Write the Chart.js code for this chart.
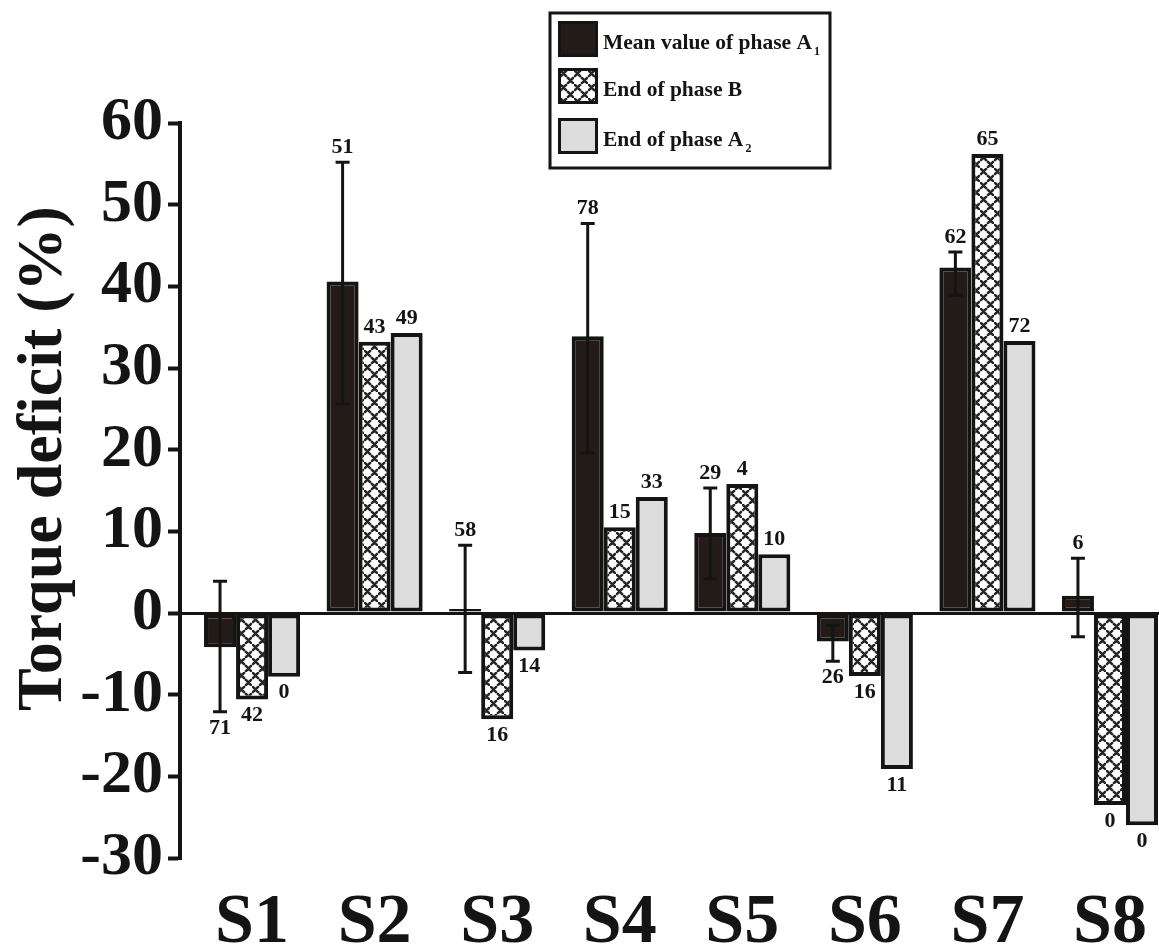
<!DOCTYPE html>
<html>
<head>
<meta charset="utf-8">
<script src="https://cdn.jsdelivr.net/npm/chart.js@4.4.1/dist/chart.umd.min.js"></script>
<style>
  html, body { margin: 0; padding: 0; background: #fff; overflow: hidden; }
  #wrap { width: 1159px; height: 945px; }
</style>
</head>
<body>
<div id="wrap"><canvas id="chart" width="1159" height="945"></canvas></div>
<script>
/* ---- data ---- */
const categories = ["S1", "S2", "S3", "S4", "S5", "S6", "S7", "S8"];

const phaseA1 = [-4.2, 40.6, 0.5, 33.9, 9.8, -3.5, 42.3, 2.1];
const phaseB  = [-10.6, 33.2, -13.0, 10.5, 15.8, -7.7, 56.2, -23.5];
const phaseA2 = [-7.8, 34.3, -4.6, 14.2, 7.2, -19.1, 33.3, -26.0];

// error bar ends for the phase A1 means
const errLow  = [-12.1, 25.6, -7.3, 19.6, 4.2, -5.9, 38.9, -2.9];
const errHigh = [3.9, 55.2, 8.3, 47.7, 15.3, -1.5, 44.2, 6.7];

// numbers printed at the bar ends
const labelsA1 = ["71", "51", "58", "78", "29", "26", "62", "6"];
const labelsB  = ["42", "43", "16", "15", "4", "16", "65", "0"];
const labelsA2 = ["0", "49", "14", "33", "10", "11", "72", "0"];

const yTicks = [-30, -20, -10, 0, 10, 20, 30, 40, 50, 60];

// legend names: [text, subscript]
const legendNames = [["Mean value of phase A", "1"], ["End of phase B", ""], ["End of phase A", "2"]];

const SERIF = '"Liberation Serif", "Times New Roman", serif';
const INK = "#141414";

const canvas = document.getElementById("chart");
const ctx0 = canvas.getContext("2d");

function crossPattern(){
  const t = document.createElement("canvas");
  t.width = 14; t.height = 14;
  const g = t.getContext("2d");
  g.fillStyle = "#fff";
  g.fillRect(0, 0, 14, 14);
  g.strokeStyle = "#262626";
  g.lineWidth = 2.6;
  g.lineCap = "round";
  const cross = (x, y) => {
    g.beginPath();
    g.moveTo(x - 2.6, y - 2.6); g.lineTo(x + 2.6, y + 2.6);
    g.moveTo(x + 2.6, y - 2.6); g.lineTo(x - 2.6, y + 2.6);
    g.stroke();
  };
  cross(3.5, 3.5); cross(10.5, 10.5);
  return ctx0.createPattern(t, "repeat");
}
const PATTERN = crossPattern();

const xPos = categories.map((c, i) => i + 1);
const pts = arr => arr.map((v, i) => ({ x: xPos[i], y: v }));

const fills = ["#221b17", PATTERN, "#dcdcdc"];

// error bars on the first dataset
const errorBars = {
  id: "errorBars",
  afterDatasetsDraw(chart){
    const meta = chart.getDatasetMeta(0);
    const y = chart.scales.y;
    const c = chart.ctx;
    c.save();
    c.strokeStyle = INK;
    c.lineWidth = 3;
    meta.data.forEach((bar, i) => {
      const top = y.getPixelForValue(errHigh[i]);
      const bot = y.getPixelForValue(errLow[i]);
      c.beginPath();
      c.moveTo(bar.x, top); c.lineTo(bar.x, bot);
      c.moveTo(bar.x - 7, top); c.lineTo(bar.x + 7, top);
      c.moveTo(bar.x - 7, bot); c.lineTo(bar.x + 7, bot);
      c.stroke();
    });
    c.restore();
  }
};

// numbers above / below each bar
const endLabels = {
  id: "endLabels",
  afterDatasetsDraw(chart){
    const y = chart.scales.y;
    const c = chart.ctx;
    const sets = [labelsA1, labelsB, labelsA2];
    c.save();
    c.fillStyle = INK;
    c.font = "bold 22px " + SERIF;
    c.textAlign = "center";
    chart.data.datasets.forEach((ds, d) => {
      chart.getDatasetMeta(d).data.forEach((bar, i) => {
        const v = ds.data[i].y;
        let hi = v, lo = v;
        if(d === 0){ hi = Math.max(v, errHigh[i]); lo = Math.min(v, errLow[i]); }
        if(v >= 0){
          c.textBaseline = "bottom";
          c.fillText(sets[d][i], bar.x, y.getPixelForValue(hi) - 4);
        }else{
          c.textBaseline = "top";
          c.fillText(sets[d][i], bar.x, y.getPixelForValue(lo) + 5);
        }
      });
    });
    c.restore();
  }
};

// boxed legend with subscripts
const boxLegend = {
  id: "boxLegend",
  afterDraw(chart){
    const c = chart.ctx;
    c.save();
    c.fillStyle = "#fff";
    c.fillRect(550, 13, 280, 155);
    c.strokeStyle = INK;
    c.lineWidth = 3;
    c.strokeRect(550, 13, 280, 155);
    const rows = [21, 68, 118];
    legendNames.forEach((n, k) => {
      const top = rows[k];
      c.fillStyle = fills[k];
      c.fillRect(558, top, 40, 36);
      c.lineWidth = 3;
      c.strokeStyle = INK;
      c.strokeRect(559.5, top + 1.5, 37, 33);
      c.fillStyle = INK;
      c.font = "bold 21.5px " + SERIF;
      c.textAlign = "left";
      c.textBaseline = "alphabetic";
      const base = top + 28;
      c.fillText(n[0], 603, base);
      if(n[1]){
        const w = c.measureText(n[0]).width;
        c.font = "bold 12px " + SERIF;
        c.fillText(n[1], 603 + w + 2, base + 6);
      }
    });
    c.restore();
  }
};

new Chart(canvas, {
  type: "bar",
  data: {
    datasets: [
      { label: "Mean value of phase A1", data: pts(phaseA1), backgroundColor: fills[0] },
      { label: "End of phase B", data: pts(phaseB), backgroundColor: fills[1] },
      { label: "End of phase A2", data: pts(phaseA2), backgroundColor: fills[2] }
    ]
  },
  options: {
    responsive: false,
    animation: false,
    layout: { padding: { top: 123, right: 0, bottom: 0, left: 0 } },
    datasets: {
      bar: { barPercentage: 1, categoryPercentage: 0.784, borderColor: INK, borderWidth: 4, borderSkipped: false }
    },
    plugins: { legend: { display: false }, tooltip: { enabled: false } },
    scales: {
      x: {
        type: "linear",
        offset: false,
        min: 0.412,
        max: 8.4,
        grid: { display: false, drawTicks: false },
        border: { display: false },
        afterBuildTicks: s => { s.ticks = xPos.map(v => ({ value: v })); },
        afterFit: s => { s.height = 87; s.paddingLeft = 0; s.paddingRight = 0; },
        ticks: {
          autoSkip: false,
          maxRotation: 0,
          padding: 24,
          color: INK,
          font: { family: SERIF, size: 70, weight: "bold" },
          callback: v => categories[v - 1]
        }
      },
      y: {
        min: yTicks[0],
        max: yTicks[yTicks.length - 1],
        afterFit: s => { s.width = 180; },
        afterBuildTicks: s => { s.ticks = yTicks.map(v => ({ value: v })); },
        border: { display: true, color: INK, width: 4 },
        grid: {
          color: c => (c.tick && c.tick.value === 0) ? INK : "rgba(0,0,0,0)",
          lineWidth: 3,
          tickColor: INK,
          tickWidth: 4,
          tickLength: 12
        },
        ticks: {
          padding: 5,
          color: INK,
          font: { family: SERIF, size: 62, weight: "bold" }
        },
        title: {
          display: true,
          text: "    Torque deficit (%)",
          color: INK,
          padding: { top: 6, bottom: 0 },
          font: { family: SERIF, size: 64, weight: "bold" }
        }
      }
    }
  },
  plugins: [errorBars, endLabels, boxLegend]
});
</script>
</body>
</html>
